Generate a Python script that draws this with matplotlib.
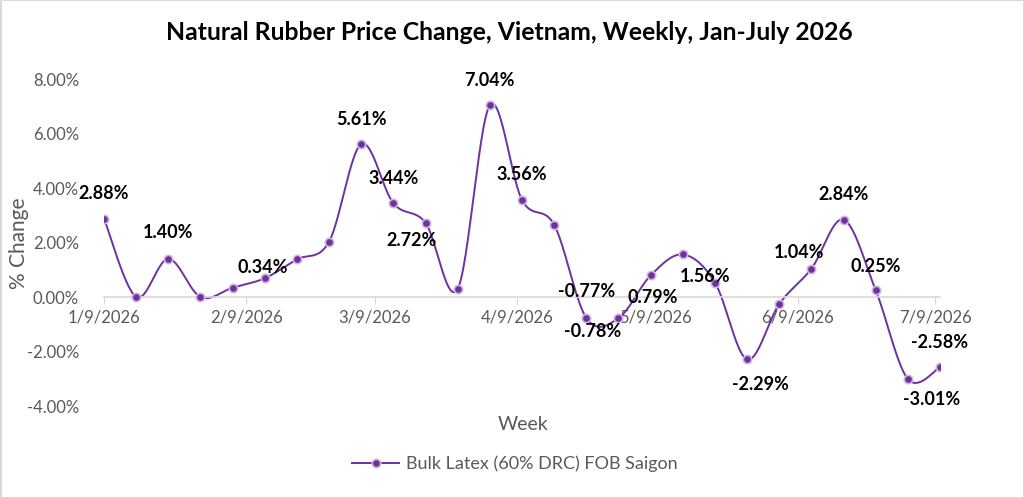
import numpy as np
import matplotlib
matplotlib.use("Agg")
import matplotlib.pyplot as plt
import matplotlib.dates as mdates
from matplotlib.ticker import FuncFormatter
from matplotlib.lines import Line2D
from matplotlib.patches import Rectangle
import datetime as dt

# ---------------- data ----------------
week_dates = ["2026-01-09", "2026-01-16", "2026-01-23", "2026-01-30", "2026-02-06",
              "2026-02-13", "2026-02-20", "2026-02-27", "2026-03-06", "2026-03-13",
              "2026-03-20", "2026-03-27", "2026-04-03", "2026-04-10", "2026-04-17",
              "2026-04-24", "2026-05-01", "2026-05-08", "2026-05-15", "2026-05-22",
              "2026-05-29", "2026-06-05", "2026-06-12", "2026-06-19", "2026-06-26",
              "2026-07-03", "2026-07-10"]
pct_change = [2.88, 0.00, 1.40, 0.00, 0.34, 0.69, 1.38, 2.03, 5.61, 3.44,
              2.72, 0.30, 7.04, 3.56, 2.65, -0.77, -0.78, 0.79, 1.56, 0.53,
              -2.29, -0.26, 1.04, 2.84, 0.25, -3.01, -2.58]
tick_dates = ["2026-01-09", "2026-02-09", "2026-03-09", "2026-04-09",
              "2026-05-09", "2026-06-09", "2026-07-09"]
tick_labels = ["1/9/2026", "2/9/2026", "3/9/2026", "4/9/2026",
               "5/9/2026", "6/9/2026", "7/9/2026"]
y_ticks = [-4, -2, 0, 2, 4, 6, 8]
series_name = "Bulk Latex (60% DRC) FOB Saigon"
title = "Natural Rubber Price Change, Vietnam, Weekly, Jan-July 2026"

# labelled points: index -> offset in pixels (dx, dy)
label_offsets = {0: (0, 25), 2: (0, 26), 4: (30, 20), 8: (0, 25), 9: (0, 25),
                 10: (-14, -18), 12: (0, 25), 13: (0, 25), 15: (0, 26),
                 16: (-26, -13), 17: (2, -22), 18: (22, -22), 20: (13, -25),
                 22: (-12, 16), 23: (0, 25), 24: (0, 24), 25: (24, -20), 26: (0, 25)}

# ---------------- style ----------------
FONT = "Lato"
plt.rcParams['font.family'] = [FONT, 'DejaVu Sans']
PURPLE = "#7030A0"
GRAY_TXT = "#595959"
AXIS_GRAY = "#D9D9D9"

fig = plt.figure(figsize=(10.24, 4.98), dpi=100)
ax = fig.add_axes([104/1024, 1-406/498, (940-104)/1024, (406-79)/498])

x = mdates.date2num([dt.datetime.strptime(d, "%Y-%m-%d") for d in week_dates])
y = np.array(pct_change)

# Excel-like smoothed line (Catmull-Rom style Bezier through the points)
def smooth(xs, ys, n=30):
    P = np.column_stack([xs, ys])
    N = len(P)
    out = []
    t = np.linspace(0, 1, n)[:, None]
    for i in range(N - 1):
        p0 = P[i - 1] if i > 0 else P[i]
        p1 = P[i]
        p2 = P[i + 1]
        p3 = P[i + 2] if i + 2 < N else P[i + 1]
        c1 = p1 + (p2 - p0) / 6.0
        c2 = p2 - (p3 - p1) / 6.0
        seg = ((1 - t) ** 3 * p1 + 3 * (1 - t) ** 2 * t * c1
               + 3 * (1 - t) * t ** 2 * c2 + t ** 3 * p2)
        out.append(seg if i == 0 else seg[1:])
    S = np.vstack(out)
    return S[:, 0], S[:, 1]

sx, sy = smooth(x, y)
ax.plot(sx, sy, color=PURPLE, lw=1.4, zorder=2)
ax.plot(x, y, ls='none', marker='o', ms=6, mfc=PURPLE, mec="#CDB8DE", mew=1.2, zorder=3)

for i, (dx, dy) in label_offsets.items():
    ax.annotate(f"{pct_change[i]:.2f}%", (x[i], y[i]), xytext=(dx, dy),
                textcoords='offset pixels', ha='center', va='center',
                fontsize=13, fontweight='bold', color='black', zorder=4)

ax.set_xlim(x[0], x[-1])
ax.set_ylim(-4, 8)
ax.set_yticks(y_ticks)
ax.yaxis.set_major_formatter(FuncFormatter(lambda v, p: f"{v:.2f}%"))
ax.tick_params(axis='y', length=0, labelsize=12, labelcolor=GRAY_TXT, pad=18)

tx = mdates.date2num([dt.datetime.strptime(d, "%Y-%m-%d") for d in tick_dates])
ax.set_xticks(tx)
ax.set_xticklabels(tick_labels)
ax.tick_params(axis='x', length=5, color=AXIS_GRAY, labelsize=12, labelcolor=GRAY_TXT,
               direction='out', pad=4)

for s in ['top', 'right', 'left']:
    ax.spines[s].set_visible(False)
ax.spines['bottom'].set_position(('data', 0))
ax.spines['bottom'].set_color(AXIS_GRAY)
ax.spines['bottom'].set_linewidth(1.2)

fig.text(19/1024, 1-243/498, "% Change", rotation=90, ha='center', va='center',
         fontsize=15, color=GRAY_TXT)
fig.text(523/1024, 1-425/498, "Week", ha='center', va='center', fontsize=14, color=GRAY_TXT)
fig.text(509/1024, 1-33/498, title, ha='center', va='center', fontsize=17.8,
         fontweight='bold', color='black')

handle = Line2D([], [], color=PURPLE, lw=1.4, marker='o', ms=6, mfc=PURPLE,
                mec="#CDB8DE", mew=1.2)
fig.legend([handle], [series_name], loc='center', bbox_to_anchor=(515/1024, 1-464/498),
           frameon=False, fontsize=13, labelcolor=GRAY_TXT, handlelength=2.6,
           handletextpad=0.4)

fig.add_artist(Rectangle((0.5/1024, 0.5/498), 1-1/1024, 1-1/498, transform=fig.transFigure,
                         fill=False, edgecolor="#D9D9D9", lw=1.5))

fig.savefig("out.png", dpi=100, facecolor='white')
